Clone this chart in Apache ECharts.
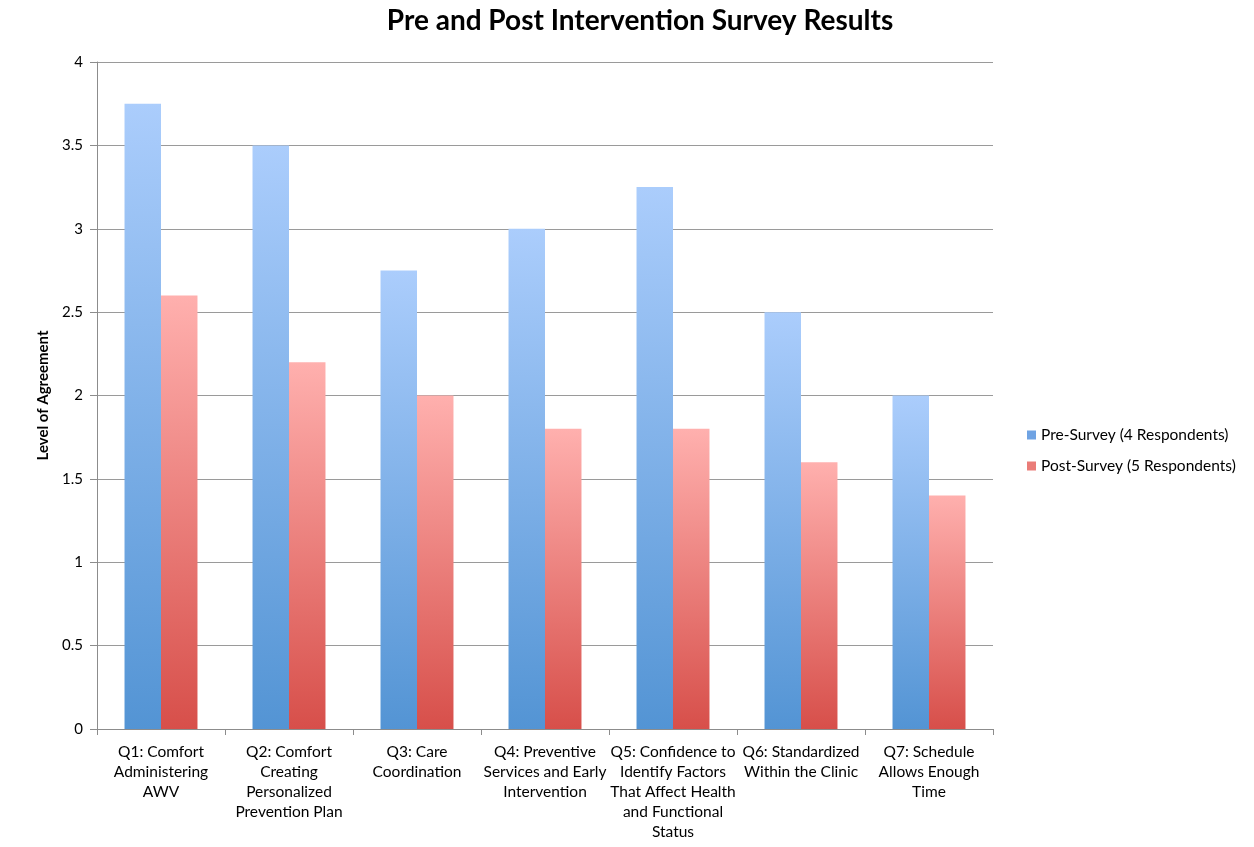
<!DOCTYPE html>
<html>
<head>
<meta charset="utf-8">
<script src="https://cdn.jsdelivr.net/npm/echarts@6/dist/echarts.min.js"></script>
<style>
  html, body { margin: 0; padding: 0; background: #fff; }
  #main { width: 1254px; height: 847px; }
</style>
</head>
<body>
<div id="main"></div>
<script>
// categories and values
const categories = [
  'Q1: Comfort\nAdministering\nAWV',
  'Q2: Comfort\nCreating\nPersonalized\nPrevention Plan',
  'Q3: Care\nCoordination',
  'Q4: Preventive\nServices and Early\nIntervention',
  'Q5: Confidence to\nIdentify Factors\nThat Affect Health\nand Functional\nStatus',
  'Q6: Standardized\nWithin the Clinic',
  'Q7: Schedule\nAllows Enough\nTime'
];
const preSurvey = [3.75, 3.5, 2.75, 3.0, 3.25, 2.5, 2.0];
const postSurvey = [2.6, 2.2, 2.0, 1.8, 1.8, 1.6, 1.4];
const seriesNames = ['Pre-Survey (4 Respondents)', 'Post-Survey (5 Respondents)'];

const myChart = echarts.init(document.getElementById('main'));

const grad = (top, bottom) => new echarts.graphic.LinearGradient(0, 0, 0, 1, [
  { offset: 0, color: top },
  { offset: 1, color: bottom }
]);

const font = 'Lato, "Open Sans", sans-serif';

const option = {
  animation: false,
  textStyle: { fontFamily: font },
  title: {
    text: 'Pre and Post Intervention Survey Results',
    left: 635,
    textAlign: 'center',
    top: 2,
    textStyle: { fontSize: 28, fontWeight: 'bold', color: '#000', fontFamily: font }
  },
  legend: {
    orient: 'vertical',
    left: 1022,
    top: 422,
    itemWidth: 9,
    itemHeight: 9,
    itemGap: 15,
    icon: 'rect',
    textStyle: { fontSize: 15.5, color: '#000', fontFamily: font },
    data: [
      { name: seriesNames[0], itemStyle: { color: '#6fa3e3' } },
      { name: seriesNames[1], itemStyle: { color: '#ea7c78' } }
    ]
  },
  grid: { left: 97, right: 261, top: 62, bottom: 118 },
  xAxis: {
    type: 'category',
    data: categories,
    axisLine: { lineStyle: { color: '#8c8c8c', width: 1 } },
    axisTick: { show: true, length: 6, lineStyle: { color: '#8c8c8c' } },
    axisLabel: {
      interval: 0,
      margin: 13,
      fontSize: 15.5,
      lineHeight: 20,
      color: '#000',
      fontFamily: font
    }
  },
  yAxis: {
    type: 'value',
    min: 0,
    max: 4,
    interval: 0.5,
    name: 'Level of Agreement',
    nameLocation: 'middle',
    nameGap: 46,
    nameTextStyle: { fontSize: 15, fontWeight: 'bold', color: '#000', fontFamily: font },
    axisLine: { show: true, lineStyle: { color: '#8c8c8c' } },
    axisTick: { show: true, length: 7, lineStyle: { color: '#8c8c8c' } },
    axisLabel: { fontSize: 15, color: '#000', margin: 14, fontFamily: font },
    splitLine: { lineStyle: { color: '#9a9a9a', width: 1 } }
  },
  series: [
    {
      name: seriesNames[0],
      type: 'bar',
      barGap: '0%',
      barCategoryGap: '43%',
      itemStyle: { color: grad('#abcdfc', '#5394d4') },
      data: preSurvey
    },
    {
      name: seriesNames[1],
      type: 'bar',
      itemStyle: { color: grad('#ffb0ae', '#d74f4a') },
      data: postSurvey
    }
  ]
};

myChart.setOption(option);
</script>
</body>
</html>
